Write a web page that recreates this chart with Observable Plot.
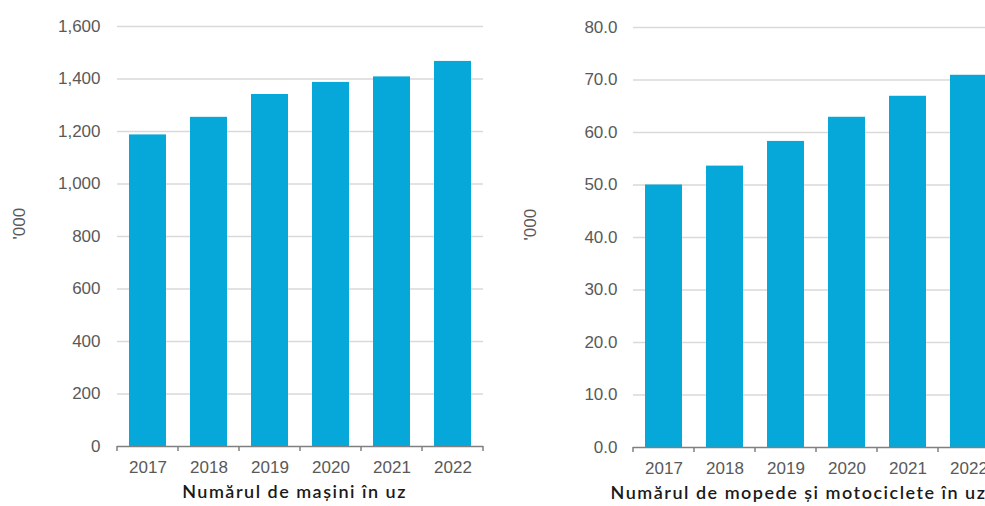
<!DOCTYPE html>
<html><head><meta charset="utf-8">
<script src="https://cdn.jsdelivr.net/npm/d3@7"></script>
<script src="https://cdn.jsdelivr.net/npm/@observablehq/plot@0.6"></script>
<style>
html,body{margin:0;padding:0;background:#fff;width:985px;height:506px;overflow:hidden;}
#wrap{position:relative;width:985px;height:506px;overflow:hidden;}
#left{position:absolute;left:0;top:0;width:500px;height:506px;}
#right{position:absolute;left:500px;top:0;width:500px;height:506px;}
svg{overflow:visible;max-width:none !important;}
.ttl text{letter-spacing:1.5px;}
</style></head><body>
<div id="wrap"><div id="left"></div><div id="right"></div></div>
<script>
const years = ["2017", "2018", "2019", "2020", "2021", "2022"];
const cars = [1187, 1254, 1341, 1387, 1408, 1467];
const motos = [50.0, 53.6, 58.3, 62.9, 66.9, 70.9];
const carTicks = [0, 200, 400, 600, 800, 1000, 1200, 1400, 1600];
const motoTicks = [0, 10, 20, 30, 40, 50, 60, 70, 80];
const titles = ["Numărul de mașini în uz", "Numărul de mopede și motociclete în uz"];
const unitLabel = "'000";

function boundaryTicks(index, scales, vals, dims) {
  const x = scales.x, y = scales.y;
  const dom = x.domain();
  const step = x.step(), bw = x.bandwidth();
  const off = (step - bw) / 2;
  const xs = dom.map(d => x(d) - off);
  xs.push(x(dom[dom.length - 1]) + bw + off);
  const y0 = y(0);
  const g = d3.create("svg:g");
  g.selectAll("line").data(xs).join("line")
    .attr("x1", d => d).attr("x2", d => d)
    .attr("y1", y0).attr("y2", y0 + 5)
    .attr("stroke", "#808080").attr("stroke-width", 1.5);
  return g.node();
}

function chart({values, ticks, fmt, title, marginLeft, marginRight, marginTop, marginBottom, tickPadding, unitDx, titleDx}) {
  const data = years.map((y, i) => ({year: y, value: values[i]}));
  const svg = Plot.plot({
    width: 500, height: 506, marginLeft, marginRight, marginTop, marginBottom,
    style: {fontFamily: "'Liberation Sans', Arial, sans-serif", fontSize: "17px", color: "#595959", background: "transparent", overflow: "visible"},
    x: {domain: years, paddingInner: 0.4, paddingOuter: 0.2, label: null},
    y: {domain: [ticks[0], ticks[ticks.length - 1]], label: null},
    marks: [
      Plot.ruleY(ticks.slice(1), {stroke: "#d9d9d9", strokeWidth: 1.5}),
      Plot.barY(data, {x: "year", y: "value", fill: "#05a8d8"}),
      Plot.ruleY([0], {stroke: "#808080", strokeWidth: 1.5}),
      boundaryTicks,
      Plot.axisY({ticks, tickSize: 0, tickPadding, tickFormat: fmt, fill: "#595959", label: null}),
      Plot.axisX({tickSize: 0, tickPadding: 14, fill: "#595959", label: null}),
      Plot.text([unitLabel], {text: d => d, frameAnchor: "left", rotate: -90, dx: unitDx, dy: 3, fill: "#595959"}),
      Plot.text([title], {text: d => d, frameAnchor: "bottom", dy: 51, dx: titleDx, fontSize: 18, fontWeight: 600, fontFamily: "Lato, 'Noto Sans', sans-serif", fill: "#1a1a1a"})
    ]
  });
  // mark the title group for letter-spacing styling
  const texts = svg.querySelectorAll("g[aria-label='text']");
  if (texts.length) texts[texts.length - 1].classList.add("ttl");
  return svg;
}

document.getElementById("left").append(chart({
  values: cars, ticks: carTicks, fmt: d3.format(","), title: titles[0],
  marginLeft: 117, marginRight: 17, marginTop: 26, marginBottom: 60, tickPadding: 17, unitDx: -98, titleDx: -6
}));
document.getElementById("right").append(chart({
  values: motos, ticks: motoTicks, fmt: d => d.toFixed(1), title: titles[1],
  marginLeft: 133, marginRight: 1, marginTop: 27, marginBottom: 59, tickPadding: 16, unitDx: -103, titleDx: -18
}));
</script>
</body></html>
